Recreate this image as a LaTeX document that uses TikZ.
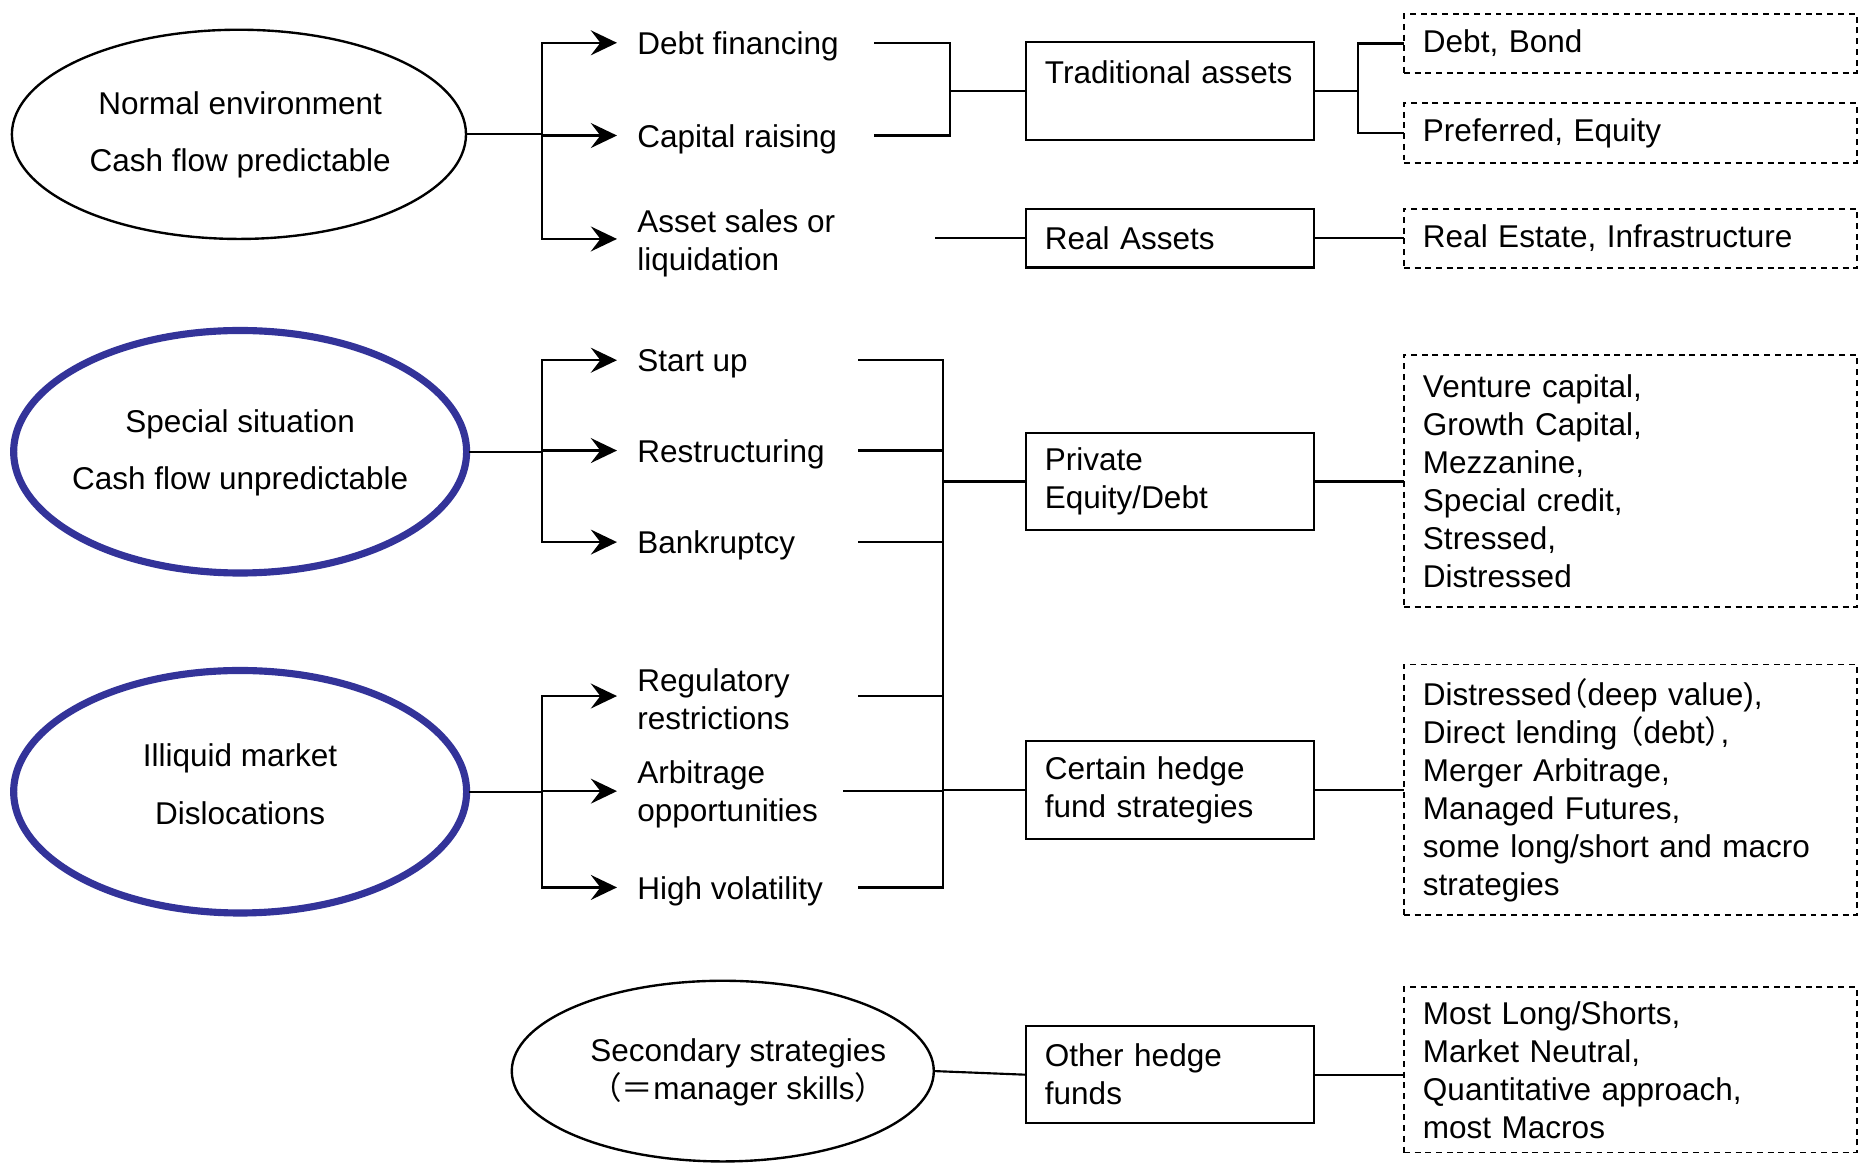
\documentclass[tikz,border=0pt]{standalone}
\usepackage{fontspec}
\setmainfont{Liberation Sans}
\newfontfamily\cjk[RawFeature=+halt]{Noto Sans CJK SC}
\usetikzlibrary{arrows.meta,shapes.geometric}
\definecolor{ellblue}{RGB}{51,51,153}
\begin{document}
\begin{tikzpicture}[x=1pt,y=-1pt,
  every node/.style={font=\fontsize{26.5}{32}\selectfont},
  ln/.style={line width=1.8pt,line cap=rect},
  arr/.style={line width=1.8pt,-{Stealth[length=22pt,width=21pt,inset=8pt]}},
  lbl/.style={anchor=west,inner sep=0pt,align=left},
  txt/.style={inner sep=0pt,align=center},
  abox/.style={draw,line width=1.8pt,minimum height=#1,text width=210pt,inner xsep=16pt,inner ysep=0pt,align=left},
  dbox/.style={draw,dash pattern=on 5pt off 4pt,line width=1.6pt,minimum height=#1,text width=349pt,inner xsep=16pt,inner ysep=0pt,align=left},
  ell/.style={draw,ellipse,line width=2pt,inner sep=0pt},
  bell/.style={draw=ellblue,ellipse,line width=6pt,inner sep=0pt}
]
\useasboundingbox[fill=white] (0,0) rectangle (1568,978.3);

% ---------- ellipses ----------
\node[ell,minimum width=382pt,minimum height=176pt] (e1) at (201,113) {};
\node[txt] (t1) at (202,113.5) {Normal environment\\[16pt]Cash flow predictable};
\node[bell,minimum width=381pt,minimum height=204pt] (e2) at (202,380) {};
\node[txt] (t2) at (202,381) {Special situation\\[15.5pt]Cash flow unpredictable};
\node[bell,minimum width=381pt,minimum height=204pt] (e3) at (202,666) {};
\node[txt] (t3) at (202,660) {Illiquid market\\[17pt]Dislocations};
\node[ell,minimum width=355pt,minimum height=152pt] (e4) at (608,901) {};
\node[txt] (t4) at (621,902) {Secondary strategies\\{\cjk （＝}manager skills{\cjk ）}};

% ---------- labels ----------
\node[lbl] (l1) at (536,39) {Debt financing};
\node[lbl] (l2) at (536,117) {Capital raising};
\node[lbl] (l3) at (536,205) {Asset sales or\\liquidation};
\node[lbl] (l4) at (536,306) {Start up};
\node[lbl] (l5) at (536,382) {Restructuring};
\node[lbl] (l6) at (536,459) {Bankruptcy};
\node[lbl] (l7) at (536,588.5) {Regulatory\\restrictions};
\node[lbl] (l8) at (536,668.5) {Arbitrage\\opportunities};
\node[lbl] (l9) at (536,749.5) {High volatility};

% ---------- boxes ----------
\node[abox=82pt] (b1) at (984,76.5) {Traditional assets\\\mbox{}};
\node[abox=49pt] (b2) at (984,200.5) {Real Assets};
\node[abox=82pt] (b3) at (984,405) {Private\\Equity/Debt};
\node[abox=83pt] (b4) at (984,664.5) {Certain hedge\\fund strategies};
\node[abox=82pt] (b5) at (984,904) {Other hedge\\funds};

% ---------- dashed boxes ----------
\node[dbox=49pt] (d1) at (1371.5,36.6) {Debt, Bond};
\node[dbox=50pt] (d2) at (1371.5,112) {Preferred, Equity};
\node[dbox=50pt] (d3) at (1371.5,200.5) {Real Estate, Infrastructure};
\node[dbox=212pt] (d4) at (1371.5,404.5) {Venture capital,\\Growth Capital,\\Mezzanine,\\Special credit,\\Stressed,\\Distressed};
\node[dbox=211pt] (d5) at (1371.5,664.5) {Distressed{\cjk （}deep value),\\Direct lending {\cjk （}debt{\cjk ）},\\Merger Arbitrage,\\Managed Futures,\\some long/short and macro\\strategies};
\node[dbox=139pt] (d6) at (1371.5,900) {Most Long/Shorts,\\Market Neutral,\\Quantitative approach,\\most Macros};

% ---------- helper coordinates ----------
\coordinate (tr) at (456,0);
\coordinate (sA) at (736,0);
\coordinate (jA) at (799,0);
\coordinate (sB) at (787,0);
\coordinate (sC) at (723,0);
\coordinate (sD) at (710,0);
\coordinate (jB) at (793,0);
\coordinate (jT) at (1142,0);
% connector heights of each label row
\coordinate (r1) at (0,36);
\coordinate (r2) at (0,114);
\coordinate (r3) at (0,201);
\coordinate (r4) at (0,303);
\coordinate (r5) at (0,379);
\coordinate (r6) at (0,456);
\coordinate (r7) at (0,585.5);
\coordinate (r8) at (0,665.5);
\coordinate (r9) at (0,746.5);

% ---------- left fans with arrows ----------
\draw[ln] (e1.east) -- (tr |- e1.east);
\draw[ln] (tr |- r1) -- (tr |- r3);
\foreach \n/\r in {l1/r1,l2/r2,l3/r3} \draw[arr] (tr |- \r) -- ([xshift=-17pt]\n.west |- \r);

\draw[ln] (e2.east) -- (tr |- e2.east);
\draw[ln] (tr |- r4) -- (tr |- r6);
\foreach \n/\r in {l4/r4,l5/r5,l6/r6} \draw[arr] (tr |- \r) -- ([xshift=-17pt]\n.west |- \r);

\draw[ln] (e3.east) -- (tr |- e3.east);
\draw[ln] (tr |- r7) -- (tr |- r9);
\foreach \n/\r in {l7/r7,l8/r8,l9/r9} \draw[arr] (tr |- \r) -- ([xshift=-17pt]\n.west |- \r);

% ---------- middle joins ----------
\draw[ln] (sA |- r1) -- (jA |- r1) -- (jA |- r2) -- (sA |- r2);
\draw[ln] (jA |- b1.west) -- (b1.west);
\draw[ln] (sB |- b2.west) -- (b2.west);

\draw[ln] (sC |- r4) -- (jB |- r4) -- (jB |- r9) -- (sC |- r9);
\foreach \r in {r5,r6,r7} \draw[ln] (sC |- \r) -- (jB |- \r);
\draw[ln] (sD |- r8) -- (jB |- r8);
\draw[ln] (jB |- b3.west) -- (b3.west);
\draw[ln] (jB |- b4.west) -- (b4.west);

\draw[ln] (e4.east) -- (b5.west);

% ---------- right joins ----------
\draw[ln] (b1.east) -- (jT |- b1.east);
\draw[ln] (d1.west) -- (jT |- d1.west) -- (jT |- d2.west) -- (d2.west);
\draw[ln] (b2.east) -- (d3.west);
\draw[ln] (b3.east) -- (b3.east -| d4.west);
\draw[ln] (b4.east) -- (b4.east -| d5.west);
\draw[ln] (b5.east) -- (b5.east -| d6.west);
\end{tikzpicture}
\end{document}
